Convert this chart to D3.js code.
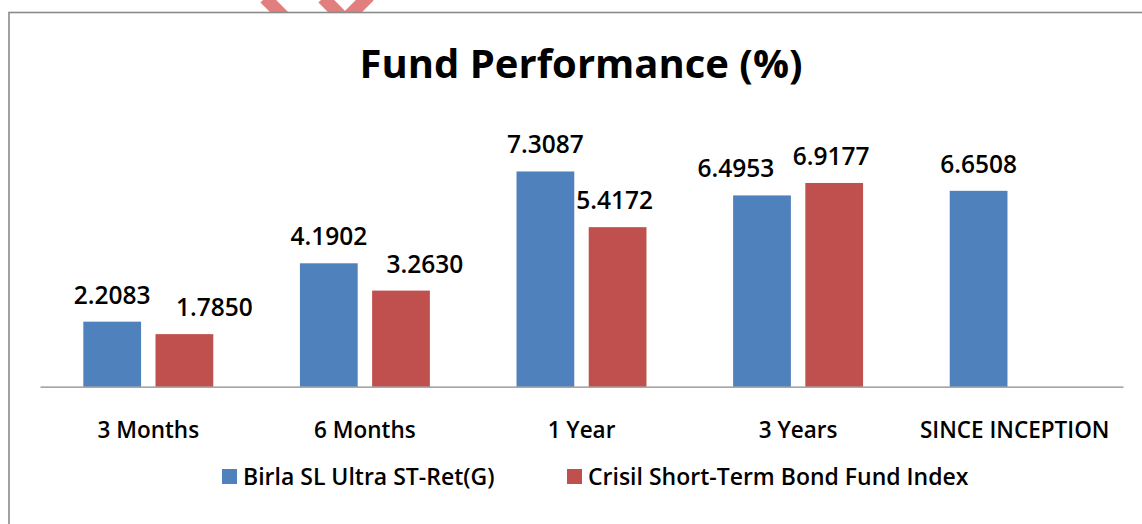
<!DOCTYPE html>
<html>
<head>
<meta charset="utf-8">
<script src="https://cdn.jsdelivr.net/npm/d3@7"></script>
<style>
  html, body { margin: 0; padding: 0; background: #fff; }
  svg { display: block; font-family: "Open Sans", sans-serif; }
</style>
</head>
<body>
<div id="chart"></div>
<script>
const categories = ["3 Months", "6 Months", "1 Year", "3 Years", "SINCE INCEPTION"];
const seriesNames = ["Birla SL Ultra ST-Ret(G)", "Crisil Short-Term Bond Fund Index"];
const fundValues = [2.2083, 4.1902, 7.3087, 6.4953, 6.6508];
const indexValues = [1.7850, 3.2630, 5.4172, 6.9177, null];
const labelText = [
    ["2.2083", "4.1902", "7.3087", "6.4953", "6.6508"],
    ["1.7850", "3.2630", "5.4172", "6.9177", null]
];
const colors = ["#4F81BD", "#C0504D"];

// some labels were dragged sideways in the original so they don't collide
const labelNudge = [
    [0, 0, 0, -26, 0],
    [30, 24, -3, -3, 0]
];

const width = 1142;
const height = 524;

const svg = d3.select("#chart").append("svg")
    .attr("width", width)
    .attr("height", height);

// pink mark peeking in above the frame
const mark = svg.append("g").attr("stroke", "#e17f7f").attr("stroke-width", 13).attr("fill", "none");
mark.append("line").attr("x1", 265).attr("y1", -2).attr("x2", 285).attr("y2", 18);
mark.append("polyline").attr("points", "323,-2 345,20 369,-4");

// frame (only left and top edges are visible)
svg.append("rect")
    .attr("x", 9).attr("y", 12.5)
    .attr("width", width + 20).attr("height", height + 20)
    .attr("fill", "#fff")
    .attr("stroke", "#8a8a8a").attr("stroke-width", 1.6);

svg.append("text")
    .attr("x", 581).attr("y", 78)
    .attr("text-anchor", "middle")
    .attr("font-size", "40px").attr("font-weight", 700)
    .attr("fill", "#000")
    .text("Fund Performance (%)");

const x0 = d3.scaleBand().domain(categories).range([40, 1123]);
const x1 = d3.scaleBand().domain(seriesNames).range([0, x0.bandwidth()])
    .paddingInner(0.2).paddingOuter(0.6);
const y = d3.scaleLinear().domain([0, 8]).range([386.7, 151.1]);

const rows = categories.map((c, i) => ({
    cat: c,
    vals: [fundValues[i], indexValues[i]].map((v, j) => ({
        s: seriesNames[j], v: v, j: j, label: labelText[j][i], nudge: labelNudge[j][i]
    }))
}));

const groups = svg.append("g").selectAll("g")
    .data(rows)
    .join("g")
    .attr("transform", d => `translate(${x0(d.cat)},0)`);

groups.selectAll("rect")
    .data(d => d.vals.filter(e => e.v != null))
    .join("rect")
    .attr("x", d => x1(d.s))
    .attr("y", d => y(d.v))
    .attr("width", x1.bandwidth())
    .attr("height", d => y(0) - y(d.v))
    .attr("fill", d => colors[d.j]);

groups.selectAll("text")
    .data(d => d.vals.filter(e => e.v != null))
    .join("text")
    .attr("x", d => x1(d.s) + x1.bandwidth() / 2 + d.nudge)
    .attr("y", d => y(d.v) - 18)
    .attr("text-anchor", "middle")
    .attr("font-size", "24.5px").attr("font-weight", 600)
    .attr("fill", "#000")
    .text(d => d.label);

// category axis
const xAxis = svg.append("g")
    .attr("transform", `translate(0,${y(0)})`)
    .call(d3.axisBottom(x0).tickSize(0).tickPadding(0));
xAxis.select(".domain").attr("stroke", "#8a8a8a").attr("stroke-width", 1.2);
xAxis.selectAll(".tick text")
    .attr("y", 51).attr("dy", null)
    .attr("font-family", "Open Sans, sans-serif")
    .attr("font-size", "22.5px").attr("font-weight", 600)
    .attr("fill", "#000");

// legend
const legendX = [222, 567];
const legend = svg.append("g").selectAll("g")
    .data(seriesNames)
    .join("g")
    .attr("transform", (d, i) => `translate(${legendX[i]},469)`);
legend.append("rect")
    .attr("width", 15).attr("height", 15)
    .attr("fill", (d, i) => colors[i]);
legend.append("text")
    .attr("x", 21).attr("y", 15.5)
    .attr("font-size", "23px").attr("font-weight", 600)
    .attr("fill", "#000")
    .text(d => d);
</script>
</body>
</html>
